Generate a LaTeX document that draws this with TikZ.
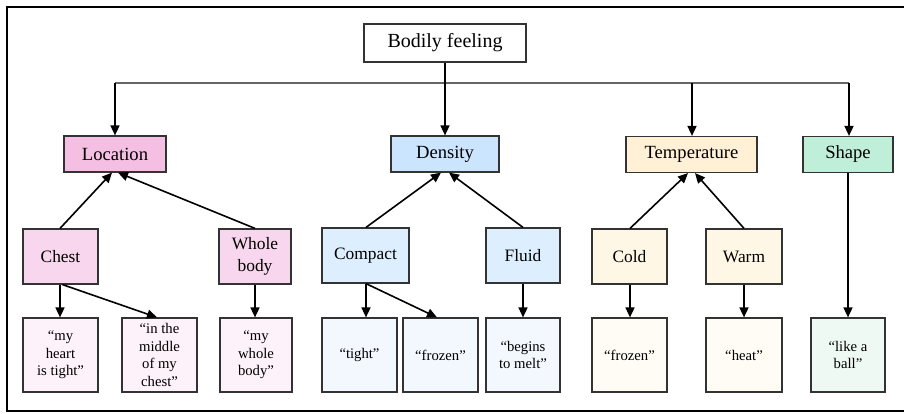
\documentclass[tikz,border=0pt]{standalone}
\usepackage{fontspec}
\setmainfont{Liberation Serif}
\newfontfamily\diagfont{Liberation Serif}
\usetikzlibrary{arrows.meta}
\definecolor{locA}{HTML}{F4BFE2}
\definecolor{locB}{HTML}{F8D6EE}
\definecolor{locC}{HTML}{FDF1FA}
\definecolor{denA}{HTML}{CCE5FF}
\definecolor{denB}{HTML}{DDEEFF}
\definecolor{denC}{HTML}{F3F8FF}
\definecolor{temA}{HTML}{FFF0D6}
\definecolor{temB}{HTML}{FFF7E6}
\definecolor{temC}{HTML}{FFFCF5}
\definecolor{shaA}{HTML}{BFEFD8}
\definecolor{shaC}{HTML}{EEF9F3}
\begin{document}
\begin{tikzpicture}[x=1pt,y=1pt,
  box/.style={draw=black!80, line width=1.2pt, inner sep=0pt, align=center, text=black},
  topbox/.style={box, minimum height=38pt, font=\diagfont\fontsize{20}{24}\selectfont},
  catbox/.style={box, minimum height=36pt, font=\diagfont\fontsize{18.6}{22}\selectfont},
  subbox/.style={box, minimum height=55pt, font=\diagfont\fontsize{17.4}{21.7}\selectfont},
  quotebox/.style={box, minimum height=74pt, font=\diagfont\fontsize{14.7}{17.5}\selectfont},
  arr/.style={-{Triangle[length=10pt,width=9pt]}, line width=1.6pt},
  hline/.style={line width=1.1pt, black!60}]
\useasboundingbox (0,0) rectangle (904,-413);
\draw[line width=1.5pt] (930,-7) -- (7,-7) -- (7,-411) -- (930,-411);
% top
\node[topbox, minimum width=162pt] (bf) at (445,-43) {Bodily feeling};
% level 1
\node[catbox, fill=locA, minimum width=102pt] (loc) at (115,-154) {Location};
\node[catbox, fill=denA, minimum width=108pt] (den) at (445,-154) {Density};
\node[catbox, fill=temA, minimum width=131pt] (tem) at (691.5,-154.5) {Temperature};
\node[catbox, fill=shaA, minimum width=90pt] (sha) at (848,-154.5) {Shape};
% level 2
\node[subbox, fill=locB, minimum width=75pt] (chest) at (60.5,-256.5) {Chest};
\node[subbox, fill=locB, minimum width=72pt] (whole) at (255,-256.5) {Whole\\body};
\node[subbox, fill=denB, minimum width=87pt] (compact) at (365.5,-255.5) {Compact};
\node[subbox, fill=denB, minimum width=74pt] (fluid) at (523,-255.5) {Fluid};
\node[subbox, fill=temB, minimum width=75pt] (cold) at (629.5,-256.5) {Cold};
\node[subbox, fill=temB, minimum width=76pt] (warm) at (744,-256.5) {Warm};
% level 3
\node[quotebox, fill=locC, minimum width=75pt] (q1) at (60.5,-355) {“my\\heart\\is tight”};
\node[quotebox, fill=locC, minimum width=75pt] (q2) at (159.5,-355) {“in the\\middle\\of my\\chest”};
\node[quotebox, fill=locC, minimum width=72pt] (q3) at (256,-355) {“my\\whole\\body”};
\node[quotebox, fill=denC, minimum width=75pt] (q4) at (359.5,-355) {“tight”};
\node[quotebox, fill=denC, minimum width=75pt] (q5) at (440.5,-355) {“frozen”};
\node[quotebox, fill=denC, minimum width=74pt] (q6) at (523,-355) {“begins\\to melt”};
\node[quotebox, fill=temC, minimum width=75pt] (q7) at (629.5,-355) {“frozen”};
\node[quotebox, fill=temC, minimum width=76pt] (q8) at (744,-355) {“heat”};
\node[quotebox, fill=shaC, minimum width=74pt] (q9) at (848,-355) {“like a\\ball”};
% top connectors
\coordinate (jl) at (115,-83);
\coordinate (jr) at (849,-83);
\coordinate (jt) at (692,-83);
\draw[hline] (jl) -- (jr);
\draw[arr] (jl) -- (loc.north);
\draw[arr] (bf.south) -- (den.north);
\draw[arr] (jt) -- (jt |- tem.north);
\draw[arr] (jr) -- (jr |- sha.north);
% level 2 -> level 1
\draw[arr] ([xshift=-0.5pt]chest.north) -- ([xshift=-3pt]loc.south);
\draw[arr] (whole.north) -- ([xshift=3pt]loc.south);
\draw[arr] ([xshift=0.5pt]compact.north) -- ([xshift=-4pt]den.south);
\draw[arr] (fluid.north) -- ([xshift=4pt]den.south);
\draw[arr] ([xshift=0.5pt]cold.north) -- ([xshift=-3.5pt]tem.south);
\draw[arr] (warm.north) -- ([xshift=3.5pt]tem.south);
% level 2 -> level 3
\draw[arr] ([xshift=-0.5pt]chest.south) -- ([xshift=-0.5pt]q1.north);
\draw[arr] ([xshift=2pt]chest.south) -- ([xshift=-2.5pt]q2.north);
\draw[arr] (whole.south) -- (whole.south |- q3.north);
\draw[arr] ([xshift=0.5pt]compact.south) -- ([xshift=0.5pt]compact.south |- q4.north);
\draw[arr] ([xshift=0.5pt]compact.south) -- ([xshift=-3.5pt]q5.north);
\draw[arr] (fluid.south) -- (q6.north);
\draw[arr] ([xshift=0.5pt]cold.south) -- ([xshift=0.5pt]q7.north);
\draw[arr] (warm.south) -- (q8.north);
\draw[arr] (sha.south) -- (q9.north);
\end{tikzpicture}
\end{document}
